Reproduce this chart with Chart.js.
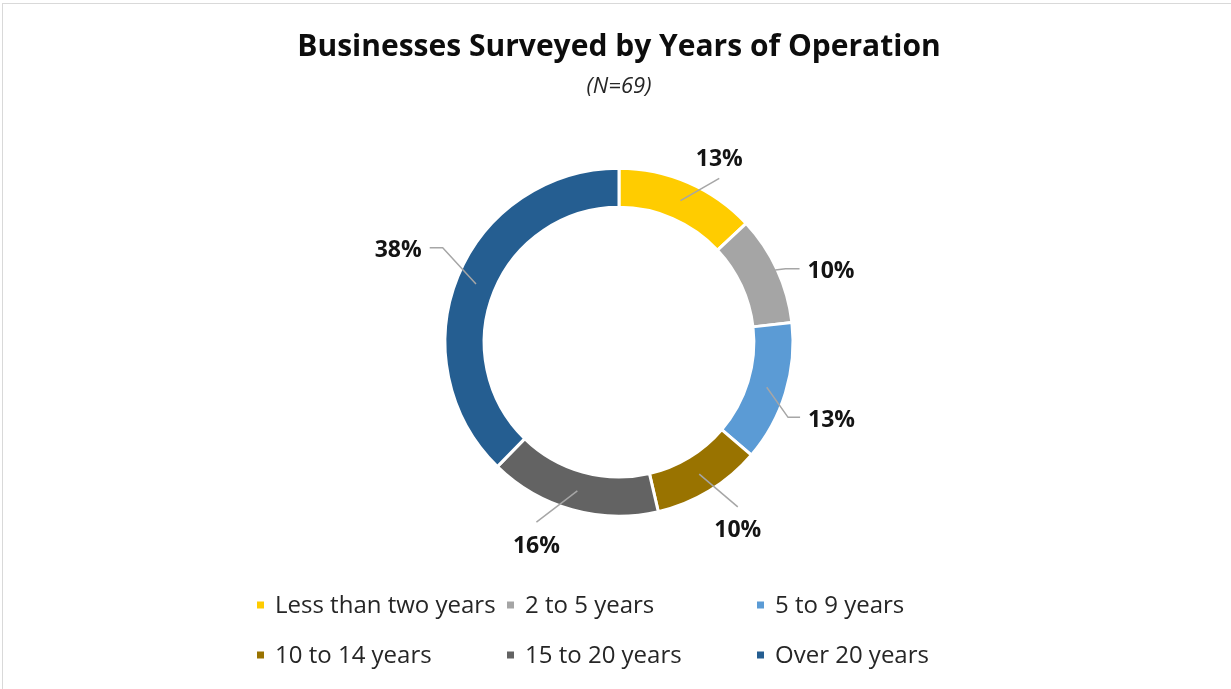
<!DOCTYPE html>
<html>
<head>
<meta charset="utf-8">
<script src="https://cdn.jsdelivr.net/npm/chart.js@4.4.1/dist/chart.umd.min.js"></script>
<style>
  html, body { margin: 0; padding: 0; background: #fff; }
  #wrap { position: relative; width: 1231px; height: 689px; overflow: hidden; }
  #frame { position: absolute; left: 2px; top: 3px; width: 1240px; height: 700px; border: 1px solid #d9d9d9; box-sizing: border-box; }
  canvas { position: absolute; left: 0; top: 0; }
</style>
</head>
<body>
<div id="wrap">
  <div id="frame"></div>
  <canvas id="c" width="1231" height="689"></canvas>
</div>
<script>
const chartTitle = 'Businesses Surveyed by Years of Operation';
const chartSubtitle = '(N=69)';
const categories = ['Less than two years', '2 to 5 years', '5 to 9 years', '10 to 14 years', '15 to 20 years', 'Over 20 years'];
const counts = [9, 7, 9, 7, 11, 26];
const percentLabels = ['13%', '10%', '13%', '10%', '16%', '38%'];
const sliceColors = ['#FFCC00', '#A5A5A5', '#5B9BD5', '#997300', '#636363', '#255E91'];

const FONT = "'Open Sans', 'Noto Sans', sans-serif";

// leader-line label layout (angle tweak in degrees, extension past outer radius, horizontal tail, start position in ring)
const labelLayout = [
  { adj: 8,   ext: 18, tail: 0,   start: 0.5 },
  { adj: 1,   ext: 8,  tail: 14,  start: 0.95 },
  { adj: 7,   ext: 11, tail: 12,  start: 0.5 },
  { adj: -4.5,ext: 29, tail: 0,   start: 0.5 },
  { adj: 9,   ext: 24, tail: 0,   start: 0.5 },
  { adj: 6,   ext: 26, tail: -13, start: 0.5 }
];

const leaderPlugin = {
  id: 'leaderLabels',
  afterDatasetsDraw(chart) {
    const ctx = chart.ctx;
    const meta = chart.getDatasetMeta(0);
    ctx.save();
    meta.data.forEach((arc, i) => {
      const p = arc.getProps(['x', 'y', 'startAngle', 'endAngle', 'innerRadius', 'outerRadius'], true);
      const L = labelLayout[i];
      const mid = (p.startAngle + p.endAngle) / 2;
      const r0 = p.innerRadius + (p.outerRadius - p.innerRadius) * L.start;
      const sx = p.x + Math.cos(mid) * r0;
      const sy = p.y + Math.sin(mid) * r0;
      const a2 = mid + L.adj * Math.PI / 180;
      const r1 = p.outerRadius + L.ext;
      const ex = p.x + Math.cos(a2) * r1;
      const ey = p.y + Math.sin(a2) * r1;
      ctx.strokeStyle = '#A6A6A6';
      ctx.lineWidth = 1.5;
      ctx.beginPath();
      ctx.moveTo(sx, sy);
      ctx.lineTo(ex, ey);
      let tx = ex;
      if (L.tail !== 0) {
        tx = ex + L.tail;
        ctx.lineTo(tx, ey);
      }
      ctx.stroke();
      ctx.fillStyle = '#141414';
      ctx.font = 'bold 23px ' + FONT;
      ctx.textBaseline = 'middle';
      if (L.tail > 0) {
        ctx.textAlign = 'left';
        ctx.fillText(percentLabels[i], tx + 8, ey + 3);
      } else if (L.tail < 0) {
        ctx.textAlign = 'right';
        ctx.fillText(percentLabels[i], tx - 8, ey + 3);
      } else {
        ctx.textAlign = 'center';
        const dy = Math.sin(a2) < 0 ? -19 : 24;
        ctx.fillText(percentLabels[i], ex, ey + dy);
      }
    });
    ctx.restore();
  }
};

const legendPlugin = {
  id: 'gridLegend',
  afterDraw(chart, args, opts) {
    const ctx = chart.ctx;
    ctx.save();
    ctx.font = '24px ' + FONT;
    ctx.textBaseline = 'middle';
    ctx.textAlign = 'left';
    categories.forEach((name, i) => {
      const col = i % 3, row = Math.floor(i / 3);
      const x = opts.cols[col];
      const y = opts.rows[row];
      ctx.fillStyle = sliceColors[i];
      ctx.fillRect(x, y - 3.5, 7, 7);
      ctx.fillStyle = '#262626';
      ctx.fillText(name, x + 18, y + 1);
    });
    ctx.restore();
  }
};

new Chart(document.getElementById('c'), {
  type: 'doughnut',
  data: {
    labels: categories,
    datasets: [{
      data: counts,
      backgroundColor: sliceColors,
      borderColor: '#ffffff',
      borderWidth: 3,
      hoverOffset: 0
    }]
  },
  options: {
    responsive: false,
    animation: false,
    radius: 174,
    cutout: '77.5%',
    layout: { padding: { top: 0, left: 7, right: 0, bottom: 105 } },
    plugins: {
      title: {
        display: true,
        text: chartTitle,
        color: '#0d0d0d',
        font: { family: FONT, size: 30, weight: 'bold', lineHeight: 1.2 },
        padding: { top: 29, bottom: 9 }
      },
      subtitle: {
        display: true,
        text: chartSubtitle,
        color: '#262626',
        font: { family: FONT, size: 22, style: 'italic', lineHeight: 1.2 },
        padding: { top: 0, bottom: 0 }
      },
      legend: { display: false },
      tooltip: { enabled: false },
      gridLegend: { cols: [257, 507, 757], rows: [605, 655] }
    }
  },
  plugins: [leaderPlugin, legendPlugin]
});
</script>
</body>
</html>
